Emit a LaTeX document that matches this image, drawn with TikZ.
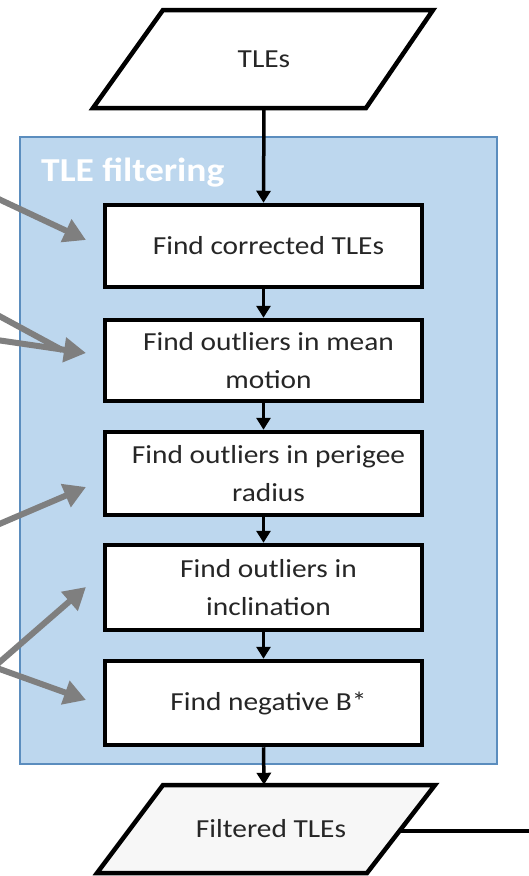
\documentclass[tikz,border=0pt]{standalone}
\usepackage{fontspec}
\setmainfont{Carlito}
\newfontfamily\boxfont[FakeStretch=1.13]{Carlito}
\newfontfamily\titlefont[FakeStretch=1.12]{Carlito}
\usetikzlibrary{arrows.meta}
\definecolor{panelfill}{HTML}{BDD7EE}
\definecolor{paneldraw}{HTML}{5B8DBE}
\definecolor{arrowgray}{HTML}{7F7F7F}
\definecolor{txt}{HTML}{262626}
\tikzset{
  stepbox/.style={draw=black, line width=4.5pt, fill=white, minimum width=317pt,
    inner sep=0pt, align=center, text=txt, font=\boxfont\fontsize{26}{38}\selectfont},
  iobox/.style={draw=none, inner sep=0pt, minimum width=200pt, text=txt,
    font=\boxfont\fontsize{26}{38}\selectfont},
  flow/.style={line width=3.5pt, -{Triangle[length=12pt,width=14pt]}},
  note/.style={line width=6pt, arrowgray, -{Triangle[length=22pt,width=24pt]}},
}
\begin{document}
\begin{tikzpicture}[x=1pt,y=-1pt]
\clip (0,0) rectangle (529,876);
\fill[white] (0,0) rectangle (529,876);
% panel
\draw[draw=paneldraw, line width=1.5pt, fill=panelfill] (20,137) rectangle (497,764);
\node[anchor=west, text=white, font=\titlefont\bfseries\fontsize{33.5}{36}\selectfont, inner sep=0pt] (title) at (41,173) {TLE filtering};
% input
\draw[line width=4.5pt, line join=miter, fill=white] (163,10) -- (433,10) -- (366,108) -- (93,108) -- cycle;
\node[iobox, minimum height=98pt] (tles) at (264,59) {TLEs};
% steps
\node[stepbox, minimum height=82pt] (b1) at (263.5,246) {\hspace*{10pt}Find corrected TLEs};
\node[stepbox, minimum height=81pt] (b2) at (263.5,360.5) {\hspace*{10pt}Find outliers in mean\\\hspace*{10pt}motion};
\node[stepbox, minimum height=83pt] (b3) at (263.5,473.5) {\hspace*{10pt}Find outliers in perigee\\\hspace*{10pt}radius};
\node[stepbox, minimum height=85pt] (b4) at (263.5,587.5) {\hspace*{10pt}Find outliers in\\\hspace*{10pt}inclination};
\node[stepbox, minimum height=84pt] (b5) at (263.5,703) {\hspace*{10pt}Find negative B*};
% output
\draw[line width=4.5pt, line join=miter, fill=black!3] (163,785) -- (435,785) -- (367,873) -- (97,873) -- cycle;
\node[iobox, minimum height=88pt] (out) at (264,829) {\hspace*{14pt}Filtered TLEs};
\coordinate (outr) at (400,831);
\coordinate (outend) at (540,831);
\draw[line width=3.5pt] (outr) -- (outend);
% flow
\draw[flow] (tles.south) -- (b1.north);
\draw[flow] (b1.south) -- (b2.north);
\draw[flow] (b2.south) -- (b3.north);
\draw[flow] (b3.south) -- (b4.north);
\draw[flow] (b4.south) -- (b5.north);
\draw[flow] (b5.south) -- (out.north);
% gray notes
\coordinate (s1) at (-10,195);
\coordinate (t1) at (86,240);
\coordinate (s2a) at (-10,311);
\coordinate (s2b) at (-10,339);
\coordinate (m2) at (62,350);
\coordinate (t2) at (86,353);
\coordinate (s3) at (-10,528);
\coordinate (t3) at (86,487);
\coordinate (s45) at (-6,667);
\coordinate (t4) at (86,587);
\coordinate (t5) at (86,700);
\draw[note] (s1) -- (t1);
\draw[note, -] (s2a) -- (m2);
\draw[note] (s2b) -- (t2);
\draw[note] (s3) -- (t3);
\draw[note] (s45) -- (t4);
\draw[note] (s45) -- (t5);
\end{tikzpicture}
\end{document}
